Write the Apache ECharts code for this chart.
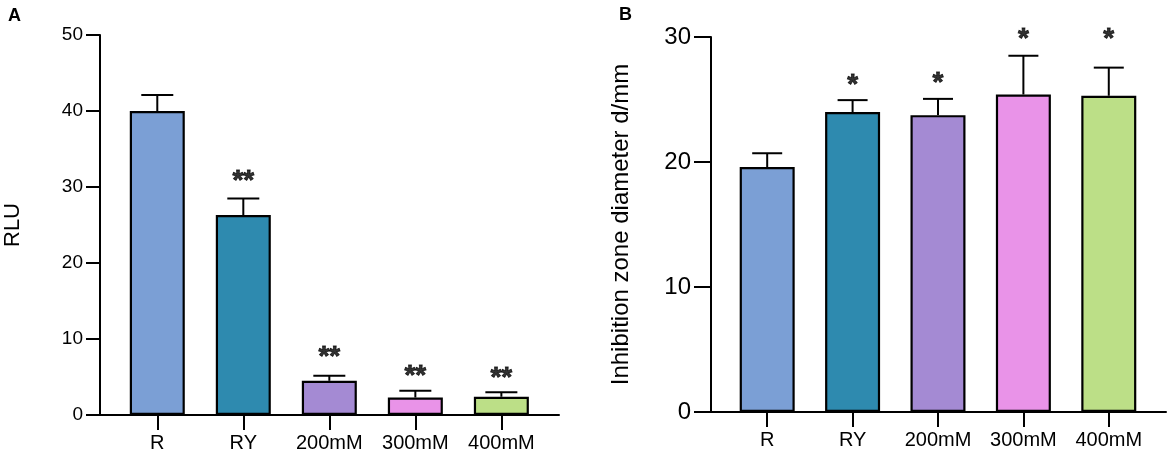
<!DOCTYPE html>
<html>
<head>
<meta charset="utf-8">
<script src="https://cdn.jsdelivr.net/npm/echarts@6/dist/echarts.min.js"></script>
<style>
  html, body { margin: 0; padding: 0; background: #fff; }
  #chart { width: 1169px; height: 454px; }
</style>
</head>
<body>
<div id="chart"></div>
<script>
// categories shared by both panels
var categories = ['R', 'RY', '200mM', '300mM', '400mM'];
var barColors = ['#7b9fd5', '#2e8aaf', '#a48ad3', '#e993e8', '#bcdf87'];

// panel A: RLU
var rluMean = [40.0, 26.3, 4.5, 2.3, 2.4];
var rluSD = [2.1, 2.2, 0.65, 0.9, 0.6];
var rluSig = ['', '**', '**', '**', '**'];
var rluSigLevel = [null, 31.4, 8.2, 5.8, 5.5];
var rluTicks = [0, 10, 20, 30, 40, 50];

// panel B: inhibition zone diameter
var zoneMean = [19.6, 24.0, 23.75, 25.4, 25.3];
var zoneSD = [1.1, 0.95, 1.3, 3.1, 2.25];
var zoneSig = ['', '*', '*', '*', '*'];
var zoneSigLevel = [null, 26.5, 26.7, 30.2, 30.2];
var zoneTicks = [0, 10, 20, 30];

var FONT = 'Liberation Sans, Arial, Helvetica, sans-serif';
var catIdx = categories.map(function (c, i) { return i; });

function xAxisFor(gi, lo, hi) {
    return {
        type: 'value', gridIndex: gi, min: lo, max: hi,
        splitLine: { show: false },
        axisLine: { show: true, onZero: false, lineStyle: { color: '#000', width: 2 } },
        axisTick: { show: true, customValues: catIdx, length: 15, lineStyle: { color: '#000', width: 2 } },
        axisLabel: {
            customValues: catIdx, margin: 18, fontSize: 20, color: '#000', fontFamily: FONT,
            formatter: function (v) { return categories[Math.round(v)]; }
        }
    };
}

function yAxisFor(gi, ticks, name, labelSize, nameSize, gap, tickLen) {
    return {
        type: 'value', gridIndex: gi, min: ticks[0], max: ticks[ticks.length - 1],
        interval: ticks[1] - ticks[0],
        name: name, nameLocation: 'middle', nameGap: gap,
        nameTextStyle: { fontSize: nameSize, color: '#000', fontFamily: FONT },
        splitLine: { show: false },
        axisLine: { show: true, onZero: false, lineStyle: { color: '#000', width: 2 } },
        axisTick: { show: true, length: tickLen, lineStyle: { color: '#000', width: 2 } },
        axisLabel: { margin: tickLen + 3, fontSize: labelSize, color: '#000', fontFamily: FONT }
    };
}

function barSeries(gi, means) {
    return {
        type: 'bar', xAxisIndex: gi, yAxisIndex: gi, barWidth: 55,
        data: means.map(function (m, i) {
            return { value: [i, m], itemStyle: { color: barColors[i] } };
        }),
        itemStyle: { borderColor: '#000', borderWidth: 2.2 },
        z: 2
    };
}

function errorSeries(gi, means, sds, capW) {
    return {
        type: 'custom', xAxisIndex: gi, yAxisIndex: gi, z: 3,
        data: means.map(function (m, i) { return [i, m, m + sds[i]]; }),
        renderItem: function (params, api) {
            var base = api.coord([api.value(0), api.value(1)]);
            var top = api.coord([api.value(0), api.value(2)]);
            var st = { stroke: '#000', lineWidth: 2 };
            return {
                type: 'group',
                children: [
                    { type: 'line', shape: { x1: base[0], y1: base[1], x2: top[0], y2: top[1] }, style: st },
                    { type: 'line', shape: { x1: top[0] - capW / 2, y1: top[1], x2: top[0] + capW / 2, y2: top[1] }, style: st }
                ]
            };
        }
    };
}

function starSeries(gi, sig, levels) {
    var pts = [];
    sig.forEach(function (s, i) {
        if (s) pts.push({ value: [i, levels[i]], mark: s });
    });
    return {
        type: 'scatter', xAxisIndex: gi, yAxisIndex: gi, clip: false,
        symbolSize: 2, itemStyle: { color: 'rgba(0,0,0,0)' }, silent: true,
        data: pts,
        label: {
            show: true, position: 'inside', offset: [0, 5],
            fontSize: 28, fontWeight: 'bold', color: '#000', fontFamily: FONT,
            textBorderColor: '#000', textBorderWidth: 0.8,
            formatter: function (p) { return p.data.mark; }
        },
        z: 4
    };
}

var option = {
    backgroundColor: '#fff',
    animation: false,
    title: [
        { text: 'A', left: 3, top: 2, textStyle: { fontSize: 18, fontWeight: 'bold', color: '#000', fontFamily: FONT } },
        { text: 'B', left: 614, top: 1, textStyle: { fontSize: 18, fontWeight: 'bold', color: '#000', fontFamily: FONT } }
    ],
    grid: [
        { left: 100, right: 610, top: 35, bottom: 39 },
        { left: 711, right: 3, top: 37, bottom: 42 }
    ],
    xAxis: [xAxisFor(0, -0.666, 4.67), xAxisFor(1, -0.658, 4.67)],
    yAxis: [
        yAxisFor(0, rluTicks, 'RLU', 19, 22, 76, 14),
        yAxisFor(1, zoneTicks, 'Inhibition zone diameter d/mm', 24, 24, 78, 17)
    ],
    series: [
        barSeries(0, rluMean),
        errorSeries(0, rluMean, rluSD, 32),
        starSeries(0, rluSig, rluSigLevel),
        barSeries(1, zoneMean),
        errorSeries(1, zoneMean, zoneSD, 30),
        starSeries(1, zoneSig, zoneSigLevel)
    ]
};

var chart = echarts.init(document.getElementById('chart'));
chart.setOption(option);
</script>
</body>
</html>
